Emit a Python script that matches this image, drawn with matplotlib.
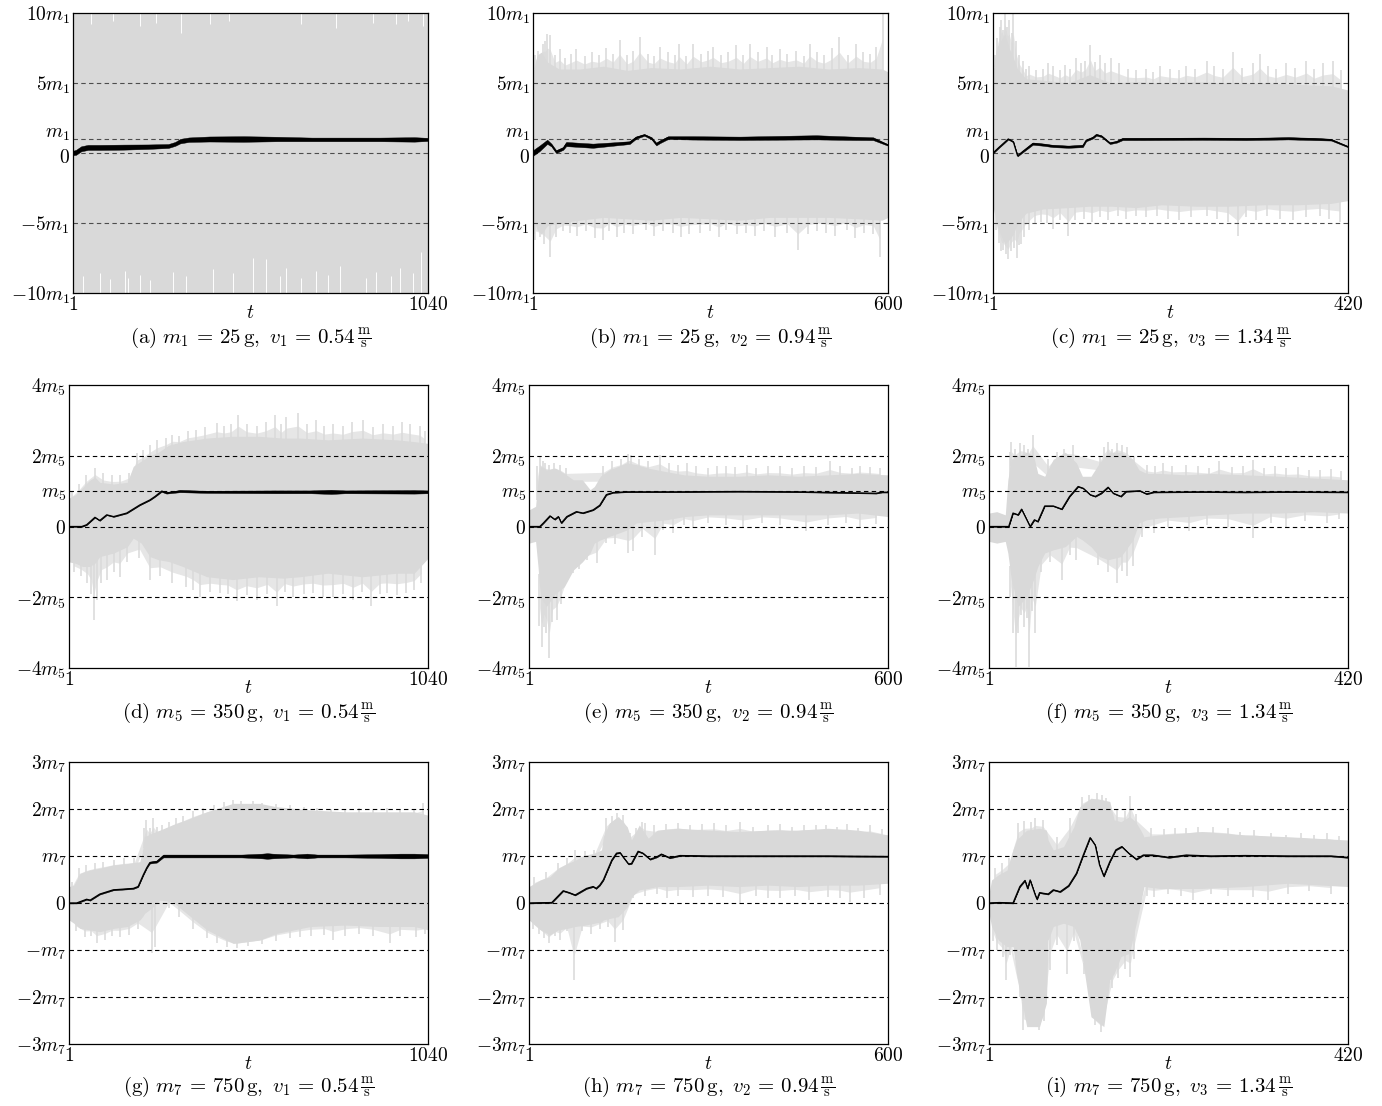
import numpy as np
import matplotlib
matplotlib.use("Agg")
import matplotlib.pyplot as plt

plt.rcParams['mathtext.fontset'] = 'cm'
plt.rcParams['font.family'] = 'serif'
plt.rcParams['font.serif'] = ['DejaVu Serif']

GRAY = '#d9d9d9'
FRINGE = '#e6e6e6'

# ---- panel (a): m1, v1, t = 1..1040 (gray covers the whole range) ----
A_T = [1, 1040]
A_HI = [11, 11]
A_LO = [-11, -11]
A_UP_T, A_UP_V, A_DN_T, A_DN_V = [], [], [], []
A_GAP_LO_T = [30, 79, 108, 152, 162, 196, 225, 294, 333, 411, 469, 528, 567, 606, 625, 669, 713, 747, 782, 860, 889, 933, 957, 996, 1020]
A_GAP_LO_V = [-8.8, -8.6, -9.0, -8.4, -8.9, -8.7, -9.1, -8.5, -8.8, -8.3, -8.6, -7.5, -7.6, -8.8, -8.2, -8.9, -8.4, -8.7, -8.1, -8.9, -8.5, -8.8, -8.2, -8.6, -7.1]
A_GAP_HI_T = [55, 118, 196, 245, 318, 401, 459, 669, 772, 879, 947, 982, 1025]
A_GAP_HI_V = [9.2, 9.4, 9.1, 9.3, 8.6, 9.2, 9.4, 9.2, 8.9, 9.3, 9.2, 9.4, 9.1]
A_EST_T = [1, 10, 25, 45, 80, 150, 220, 280, 300, 315, 340, 400, 500, 600, 700, 800, 900, 1000, 1040]
A_EST = [0.0, 0.05, 0.3, 0.4, 0.4, 0.42, 0.45, 0.5, 0.65, 0.85, 0.95, 1.0, 1.0, 1.0, 0.97, 0.97, 0.97, 0.97, 0.97]
A_JIT = [0.16, 0.18, 0.18, 0.18, 0.18, 0.18, 0.16, 0.14, 0.14, 0.16, 0.16, 0.18, 0.2, 0.16, 0.13, 0.13, 0.13, 0.16, 0.11]

# ---- panel (b): m1, v2, t = 1..600 ----
B_T = [1, 8, 15, 25, 45, 80, 120, 160, 200, 250, 300, 350, 400, 450, 500, 550, 590, 600]
B_HI = [5.8, 7.0, 7.2, 6.5, 6.0, 6.0, 6.2, 5.9, 6.1, 6.0, 6.2, 6.0, 6.1, 6.2, 6.0, 6.1, 6.0, 5.8]
B_LO = [-4.6, -5.5, -5.8, -5.2, -5.0, -4.8, -4.6, -4.7, -4.8, -4.6, -4.7, -4.8, -4.6, -4.6, -4.6, -4.7, -4.8, -4.6]
B_UP_T = [5, 10, 18, 22, 25, 30, 38, 46, 55, 65, 74, 88, 100, 112, 125, 136, 147, 160, 170, 181,
          195, 205, 215, 228, 240, 248, 260, 271, 285, 296, 305, 318, 330, 344, 356, 367, 380, 395, 405, 417,
          430, 445, 458, 468, 480, 492, 505, 518, 532, 546, 558, 570, 580, 591]
B_UP_V = [7.0, 7.3, 7.8, 8.0, 8.5, 8.4, 7.0, 7.4, 6.8, 7.1, 7.4, 6.9, 7.2, 7.0, 7.5, 7.1, 8.1, 7.0, 7.3, 8.3,
          7.1, 6.9, 7.6, 7.2, 7.0, 7.8, 6.9, 7.8, 7.1, 7.3, 7.6, 7.0, 7.2, 7.7, 7.0, 7.8, 7.2, 7.6, 7.0, 7.4,
          7.1, 7.3, 6.9, 7.8, 7.2, 7.0, 7.5, 8.3, 7.0, 7.8, 7.2, 7.1, 7.6, 10.0]
B_DN_T = [3, 5, 12, 20, 30, 40, 52, 63, 75, 90, 105, 119, 130, 142, 155, 170, 192, 205, 220, 237,
          250, 265, 282, 300, 315, 327, 345, 361, 375, 390, 410, 430, 448, 465, 480, 496, 510, 530, 545, 560, 575, 586]
B_DN_V = [-5.8, -6.2, -6.0, -6.5, -7.4, -6.0, -5.6, -5.7, -5.9, -5.6, -6.1, -6.2, -5.6, -6.0, -5.7, -5.8, -5.5, -5.9, -5.6, -5.7,
          -6.0, -5.8, -5.7, -5.6, -6.0, -5.5, -5.8, -5.7, -5.9, -5.6, -6.0, -5.7, -6.9, -5.8, -5.6, -5.7, -5.9, -5.5, -6.1, -5.7, -5.8, -7.4]
B_EST_T = [1, 12, 25, 32, 40, 52, 57, 102, 136, 164, 175, 189, 201, 209, 215, 229, 271, 350, 479, 540, 575, 600]
B_EST = [0.0, 0.33, 0.8, 0.57, 0.1, 0.33, 0.64, 0.52, 0.64, 0.74, 1.1, 1.29, 1.05, 0.64, 0.8, 1.1, 1.08, 1.05, 1.12, 1.05, 1.02, 0.57]
B_JIT = [0.2, 0.2, 0.15, 0.1, 0.1, 0.1, 0.15, 0.15, 0.12, 0.1, 0.08, 0.06, 0.08, 0.1, 0.1, 0.1, 0.12, 0.12, 0.15, 0.12, 0.1, 0.05]

# ---- panel (c): m1, v3, t = 1..420 ----
C_T = [1, 5, 10, 15, 20, 25, 30, 40, 60, 90, 115, 140, 170, 200, 240, 280, 320, 360, 400, 420]
C_HI = [5.8, 7.5, 8.0, 8.5, 7.5, 6.8, 6.0, 5.3, 5.2, 5.0, 5.6, 5.0, 5.1, 5.0, 5.1, 5.0, 5.0, 4.9, 4.8, 4.5]
C_LO = [-3.8, -5.0, -5.8, -6.5, -6.2, -5.8, -5.0, -4.3, -4.0, -3.9, -3.8, -3.8, -3.9, -3.7, -3.8, -3.8, -3.7, -3.7, -3.6, -3.4]
C_UP_T = [3, 6, 9, 11, 13, 15, 18, 20, 23, 25, 28, 32, 36, 40, 44, 52, 60, 66, 72, 80,
          86, 92, 99, 105, 110, 116, 121, 127, 133, 140, 150, 160, 170, 182, 190, 198, 210, 220, 229, 240,
          253, 262, 272, 284, 295, 308, 316, 325, 335, 347, 358, 371, 380, 390, 402, 412]
C_UP_V = [7.0, 8.2, 9.0, 9.5, 8.8, 10.0, 9.0, 9.5, 8.6, 10.0, 8.0, 7.0, 6.6, 6.0, 6.2, 5.9, 6.0, 6.4, 6.2, 5.9,
          6.3, 6.0, 6.8, 6.4, 6.6, 7.7, 6.5, 7.0, 6.4, 6.8, 6.4, 6.0, 5.9, 6.0, 5.8, 6.2, 6.0, 5.9, 6.2, 6.0,
          6.6, 6.2, 6.0, 7.2, 6.1, 6.4, 7.1, 6.2, 6.0, 6.4, 6.1, 6.6, 6.0, 6.4, 6.6, 5.9]
C_DN_T = [4, 8, 11, 13, 16, 19, 22, 26, 29, 32, 34, 38, 44, 50, 58, 65, 72, 80, 90, 98,
          108, 118, 127, 137, 148, 158, 170, 182, 195, 208, 221, 235, 253, 265, 278, 290, 300, 312, 324, 340,
          355, 370, 387, 398, 410]
C_DN_V = [-5.5, -6.4, -7.0, -6.9, -7.2, -7.6, -7.0, -6.8, -7.5, -6.6, -6.5, -6.0, -5.5, -5.0, -4.9, -5.0, -5.4, -4.8, -5.9, -4.8,
          -4.7, -4.9, -4.6, -4.8, -4.5, -4.7, -4.5, -4.6, -4.5, -4.7, -4.8, -4.6, -4.5, -4.7, -4.9, -5.9, -4.6, -4.8, -4.5, -4.7,
          -4.8, -4.6, -4.5, -4.7, -4.9]
C_EST_T = [1, 8, 19, 25, 30, 36, 48, 60, 72, 90, 107, 111, 119, 123, 129, 139, 147, 154, 180, 250, 300, 350, 380, 400, 420]
C_EST = [0.0, 0.4, 1.0, 0.8, -0.2, 0.1, 0.67, 0.6, 0.5, 0.45, 0.5, 0.9, 1.1, 1.3, 1.2, 0.7, 0.8, 1.0, 1.0, 1.02, 1.0, 1.05, 1.0, 0.95, 0.45]
C_JIT = [0.04, 0.04, 0.04, 0.04, 0.04, 0.06, 0.08, 0.08, 0.08, 0.08, 0.08, 0.06, 0.06, 0.06, 0.06, 0.06, 0.06, 0.08, 0.08, 0.08, 0.08, 0.08, 0.08, 0.06, 0.04]

# ---- panel (d): m5, v1, t = 1..1040 ----
D_T = [1, 20, 40, 60, 76, 90, 130, 170, 187, 210, 235, 260, 290, 330, 400, 475, 550, 620, 670, 750, 850, 950, 1000, 1040]
D_HI = [0.8, 0.9, 1.1, 1.3, 1.4, 1.25, 1.2, 1.25, 1.7, 1.85, 2.0, 2.1, 2.3, 2.4, 2.5, 2.55, 2.55, 2.5, 2.5, 2.45, 2.5, 2.45, 2.4, 2.35]
D_LO = [-1.0, -1.04, -1.13, -1.13, -1.04, -0.85, -0.75, -0.57, -0.33, -0.47, -0.85, -0.94, -0.99, -1.13, -1.42, -1.5, -1.42, -1.46, -1.42, -1.32, -1.42, -1.32, -1.32, -0.9]
D_UP_T = [10, 30, 50, 76, 100, 125, 150, 175, 197, 215, 235, 255, 283, 300, 320, 345, 370, 395, 428, 450,
          470, 491, 515, 544, 570, 597, 615, 630, 664, 690, 717, 740, 765, 794, 820, 852, 880, 910, 940, 965,
          987, 1016, 1030]
D_UP_V = [1.0, 1.2, 1.45, 1.65, 1.5, 1.45, 1.45, 1.5, 2.08, 2.15, 2.3, 2.45, 2.5, 2.6, 2.55, 2.7, 2.74, 2.8, 2.92, 2.85,
          2.9, 3.16, 2.9, 2.83, 2.95, 3.16, 2.9, 3.1, 3.2, 2.9, 3.0, 2.85, 2.9, 2.83, 2.95, 3.0, 2.8, 2.9, 2.85, 2.95,
          2.9, 2.85, 2.7]
D_DN_T = [15, 35, 54, 65, 73, 81, 95, 110, 130, 148, 170, 205, 235, 265, 300, 341, 360, 380, 410, 438,
          460, 486, 515, 544, 575, 602, 625, 650, 680, 708, 735, 765, 795, 823, 850, 876, 900, 920, 950, 977,
          1000, 1021]
D_DN_V = [-1.3, -1.4, -1.6, -1.9, -2.64, -2.07, -1.6, -1.51, -1.3, -1.42, -1.0, -0.9, -1.51, -1.4, -1.6, -1.7, -1.8, -1.98, -1.85, -1.89,
          -1.9, -2.12, -1.95, -2.07, -1.9, -2.26, -1.85, -1.98, -1.9, -1.89, -2.0, -1.98, -1.9, -2.07, -1.85, -2.26, -1.9, -1.89, -1.95, -1.89,
          -1.8, -1.6]
D_EST_T = [1, 38, 52, 76, 90, 110, 130, 168, 206, 235, 250, 269, 283, 322, 400, 600, 700, 760, 800, 1000, 1040]
D_EST = [0.0, 0.0, 0.05, 0.26, 0.17, 0.33, 0.28, 0.38, 0.61, 0.75, 0.85, 1.0, 0.95, 1.0, 0.98, 0.98, 0.98, 0.98, 0.98, 0.98, 0.98]
D_JIT = [0.01, 0.01, 0.01, 0.01, 0.01, 0.01, 0.01, 0.01, 0.01, 0.01, 0.01, 0.02, 0.02, 0.03, 0.03, 0.04, 0.04, 0.06, 0.04, 0.05, 0.04]

# ---- panel (e): m5, v2, t = 1..600 ----
E_T = [1, 12, 16, 20, 30, 45, 60, 75, 90, 103, 110, 120, 135, 150, 164, 180, 200, 230, 260, 300, 350, 400, 450, 500, 550, 600]
E_HI = [0.47, 0.57, 1.32, 1.7, 1.6, 1.65, 1.5, 1.32, 1.32, 1.04, 1.13, 1.42, 1.6, 1.7, 1.8, 1.75, 1.65, 1.55, 1.46, 1.42, 1.42, 1.46, 1.42, 1.46, 1.5, 1.46]
E_LO = [-0.47, -0.42, -1.13, -1.98, -2.26, -1.9, -1.7, -1.23, -1.0, -0.75, -0.47, -0.38, -0.28, -0.19, -0.1, 0.1, 0.14, 0.19, 0.28, 0.33, 0.33, 0.33, 0.33, 0.33, 0.38, 0.28]
E_UP_T = [14, 19, 24, 28, 35, 42, 53, 62, 125, 140, 155, 167, 172, 185, 200, 219, 235, 250, 264, 280,
          300, 314, 330, 345, 364, 380, 400, 419, 440, 460, 480, 503, 520, 540, 553, 570, 586]
E_UP_V = [1.7, 1.98, 1.85, 1.8, 1.75, 1.8, 1.75, 1.65, 1.7, 1.85, 1.9, 2.06, 2.03, 1.9, 1.85, 2.03, 1.8, 1.75, 1.8, 1.7,
          1.65, 1.7, 1.72, 1.68, 1.75, 1.65, 1.7, 1.7, 1.65, 1.72, 1.68, 1.84, 1.7, 1.65, 1.7, 1.68, 1.65]
E_DN_T = [18, 22, 26, 30, 35, 40, 47, 55, 64, 75, 85, 97, 114, 130, 145, 167, 175, 190, 211, 225,
          242, 260, 275, 300, 330, 358, 390, 420, 464, 500, 530, 553, 580]
E_DN_V = [-2.8, -3.4, -2.83, -3.0, -3.73, -2.7, -2.64, -2.2, -1.5, -1.32, -1.2, -0.94, -1.04, -0.47, -0.5, -0.75, -0.7, -0.3, -0.8, -0.1,
          -0.19, 0.05, -0.05, 0.1, 0.05, -0.05, 0.1, 0.05, -0.14, 0.05, 0.1, -0.05, 0.08]
E_EST_T = [1, 19, 25, 36, 44, 50, 55, 64, 80, 91, 108, 119, 130, 141, 164, 250, 350, 450, 580, 590, 600]
E_EST = [0.0, 0.0, 0.1, 0.3, 0.2, 0.28, 0.1, 0.28, 0.42, 0.38, 0.47, 0.6, 0.9, 0.96, 0.98, 0.98, 0.99, 0.98, 0.94, 0.97, 0.97]
E_JIT = [0.01] * 21

# ---- panel (f): m5, v3, t = 1..420 ----
F_T = [1, 10, 20, 23, 27, 35, 45, 53, 58, 66, 76, 90, 103, 110, 120, 130, 140, 155, 169, 176, 185, 200, 230, 260, 300, 340, 380, 420]
F_HI = [0.38, 0.42, 0.33, 1.32, 1.9, 2.0, 2.1, 2.0, 1.5, 1.42, 1.9, 2.1, 1.8, 1.42, 1.42, 1.8, 2.1, 2.1, 1.9, 1.6, 1.5, 1.5, 1.46, 1.5, 1.46, 1.42, 1.37, 1.32]
F_LO = [-0.42, -0.47, -0.42, -0.75, -1.5, -2.26, -1.98, -1.5, -1.13, -0.75, -0.66, -0.57, -0.28, -0.38, -0.57, -0.85, -0.94, -0.85, -0.38, 0.1, 0.19, 0.24, 0.28, 0.33, 0.38, 0.38, 0.42, 0.38]
F_UP_T = [25, 27, 31, 37, 42, 47, 52, 70, 80, 88, 99, 130, 135, 140, 145, 150, 156, 162, 170, 185,
          195, 204, 215, 231, 245, 258, 270, 285, 298, 309, 322, 335, 348, 362, 375, 387, 400, 412]
F_UP_V = [2.1, 2.4, 2.2, 2.36, 2.3, 2.2, 2.6, 1.9, 2.1, 2.2, 2.3, 2.0, 2.25, 2.4, 2.2, 2.36, 2.3, 2.26, 2.0, 1.75,
          1.7, 1.8, 1.72, 1.75, 1.7, 1.65, 1.84, 1.68, 1.7, 1.89, 1.65, 1.7, 1.65, 1.68, 1.6, 1.6, 1.62, 1.58]
F_DN_T = [26, 29, 32, 35, 38, 42, 45, 48, 51, 55, 62, 72, 86, 95, 103, 128, 140, 150, 156, 162,
          169, 180, 193, 210, 235, 255, 280, 309, 330, 348, 370, 395, 410]
F_DN_V = [-2.0, -3.0, -3.96, -3.0, -2.5, -2.83, -2.6, -3.96, -2.4, -3.0, -1.3, -1.0, -1.5, -0.8, -0.94, -1.1, -1.3, -1.6, -1.27, -1.4,
          -1.13, -0.3, -0.19, 0.0, -0.14, 0.05, 0.0, -0.33, 0.1, 0.0, 0.15, 0.1, 0.2]
F_EST_T = [1, 24, 29, 35, 39, 49, 54, 58, 66, 76, 86, 95, 105, 111, 119, 125, 132, 140, 146, 155, 161, 177, 185, 193, 250, 300, 350, 420]
F_EST = [0.0, 0.0, 0.38, 0.33, 0.49, 0.0, 0.19, 0.14, 0.58, 0.58, 0.49, 0.85, 1.13, 1.08, 0.9, 0.85, 0.94, 1.11, 0.94, 0.85, 0.99, 1.01, 0.92, 0.97, 0.98, 0.97, 0.98, 0.97]
F_JIT = [0.01] * 28

# ---- panel (g): m7, v1, t = 1..1040 ----
G_T = [1, 15, 33, 60, 90, 130, 170, 206, 214, 220, 240, 264, 300, 341, 400, 476, 553, 600, 700, 800, 900, 1000, 1040]
G_HI = [0.35, 0.38, 0.63, 0.7, 0.74, 0.81, 0.84, 0.88, 1.13, 1.41, 1.48, 1.55, 1.66, 1.77, 1.94, 2.12, 2.12, 2.05, 1.98, 1.94, 1.94, 1.94, 1.87]
G_LO = [-0.36, -0.43, -0.54, -0.57, -0.61, -0.54, -0.5, -0.36, -0.29, -0.22, -0.11, 0.06, 0.03, -0.22, -0.57, -0.86, -0.79, -0.65, -0.5, -0.47, -0.5, -0.5, -0.57]
G_UP_T = [10, 30, 50, 75, 100, 130, 160, 190, 218, 225, 235, 245, 255, 270, 290, 310, 330, 360, 390, 420,
          450, 476, 500, 534, 560, 600, 640, 680, 720, 760, 800, 840, 880, 920, 960, 1000, 1026]
G_UP_V = [0.45, 0.75, 0.8, 0.85, 0.88, 0.92, 0.95, 0.96, 1.6, 1.77, 1.6, 1.8, 1.62, 1.65, 1.72, 1.8, 1.85, 1.95, 2.02, 2.08,
          2.15, 2.19, 2.18, 2.16, 2.12, 2.1, 2.08, 2.05, 2.02, 2.0, 2.0, 2.02, 1.98, 2.02, 2.0, 2.0, 2.12]
G_DN_T = [20, 47, 65, 81, 105, 125, 148, 175, 200, 240, 250, 290, 320, 360, 400, 430, 457, 486, 520, 560,
          600, 640, 669, 700, 740, 766, 800, 840, 880, 929, 960, 1006, 1030]
G_DN_V = [-0.6, -0.72, -0.7, -0.86, -0.79, -0.7, -0.72, -0.68, -0.55, -1.07, -0.93, -0.1, -0.3, -0.55, -0.75, -0.85, -0.93, -0.96, -0.92, -0.88,
          -0.8, -0.75, -0.72, -0.7, -0.68, -0.79, -0.7, -0.65, -0.7, -0.86, -0.7, -0.72, -0.65]
G_EST_T = [1, 23, 52, 62, 90, 129, 187, 201, 216, 226, 235, 255, 274, 300, 400, 500, 560, 575, 590, 650, 690, 720, 800, 900, 960, 1000, 1040]
G_EST = [0.0, 0.0, 0.08, 0.06, 0.19, 0.28, 0.31, 0.35, 0.6, 0.75, 0.86, 0.88, 1.0, 1.0, 1.0, 1.0, 1.0, 1.0, 1.0, 1.0, 1.0, 1.0, 1.0, 1.0, 1.0, 1.0, 1.0]
G_JIT = [0.01, 0.01, 0.01, 0.01, 0.01, 0.01, 0.01, 0.01, 0.01, 0.01, 0.02, 0.02, 0.03, 0.03, 0.03, 0.03, 0.05, 0.06, 0.05, 0.03, 0.05, 0.03, 0.03, 0.04, 0.05, 0.05, 0.04]

# ---- panel (h): m7, v2, t = 1..600 ----
H_T = [1, 20, 36, 50, 65, 78, 95, 110, 122, 125, 135, 150, 165, 172, 185, 200, 215, 250, 300, 350, 400, 450, 500, 550, 600]
H_HI = [0.35, 0.49, 0.56, 0.74, 0.84, 0.91, 1.02, 1.06, 1.13, 1.41, 1.7, 1.84, 1.62, 1.34, 1.66, 1.38, 1.55, 1.59, 1.55, 1.52, 1.55, 1.55, 1.59, 1.55, 1.45]
H_LO = [-0.36, -0.57, -0.68, -0.57, -0.54, -0.5, -0.47, -0.43, -0.4, -0.36, -0.33, -0.29, -0.08, 0.13, 0.28, 0.31, 0.35, 0.35, 0.38, 0.35, 0.38, 0.35, 0.38, 0.38, 0.42]
H_UP_T = [10, 30, 50, 65, 78, 95, 110, 130, 140, 147, 158, 170, 180, 189, 194, 210, 230, 250, 270, 290,
          310, 330, 353, 375, 400, 420, 440, 460, 480, 497, 515, 531, 550, 570, 590]
H_UP_V = [0.55, 0.65, 0.85, 0.95, 1.13, 1.1, 1.12, 1.8, 1.85, 1.92, 1.87, 1.5, 1.6, 1.73, 1.7, 1.65, 1.68, 1.7, 1.65, 1.68,
          1.7, 1.65, 1.73, 1.62, 1.65, 1.68, 1.62, 1.66, 1.65, 1.66, 1.62, 1.68, 1.6, 1.65, 1.58]
H_DN_T = [8, 18, 26, 34, 44, 53, 64, 76, 90, 105, 120, 132, 144, 158, 175, 195, 215, 231, 250, 275,
          300, 325, 353, 380, 400, 420, 445, 469, 500, 520, 536, 560, 586]
H_DN_V = [-0.55, -0.65, -0.75, -0.86, -0.7, -0.79, -0.6, -1.64, -0.6, -0.65, -0.55, -0.5, -0.82, -0.57, 0.1, 0.15, 0.2, 0.1, 0.15, 0.13,
          0.15, 0.12, 0.0, 0.15, 0.1, 0.1, 0.15, 0.06, 0.12, 0.1, 0.03, 0.1, 0.17]
H_EST_T = [1, 39, 58, 68, 78, 97, 108, 113, 119, 125, 139, 147, 153, 158, 167, 172, 183, 191, 203, 214, 222, 236, 253, 300, 400, 500, 600]
H_EST = [0.0, 0.01, 0.26, 0.22, 0.17, 0.31, 0.35, 0.31, 0.38, 0.49, 0.91, 1.06, 1.07, 0.98, 0.83, 0.84, 1.1, 1.06, 0.93, 0.98, 1.04, 0.96, 1.01, 1.0, 1.0, 1.0, 0.99]
H_JIT = [0.01] * 27

# ---- panel (i): m7, v3, t = 1..420 ----
I_T = [1, 4, 12, 22, 29, 33, 45, 60, 68, 70, 76, 88, 100, 107, 120, 135, 142, 147, 155, 165, 172, 178, 182, 200, 250, 300, 350, 420]
I_HI = [0.2, 0.49, 0.6, 0.7, 1.13, 1.34, 1.55, 1.59, 1.55, 1.34, 1.13, 1.2, 1.62, 2.05, 2.23, 2.19, 2.16, 1.77, 1.73, 1.84, 1.73, 1.55, 1.41, 1.45, 1.52, 1.45, 1.41, 1.34]
I_LO = [-0.22, -0.5, -0.79, -0.93, -0.93, -1.5, -2.63, -2.63, -2.13, -0.79, -0.5, -0.43, -0.5, -0.79, -2.42, -2.63, -1.64, -1.5, -1.14, -1.07, -0.5, 0.0, 0.35, 0.31, 0.31, 0.35, 0.42, 0.35]
I_UP_T = [8, 16, 24, 35, 42, 50, 55, 64, 80, 95, 110, 118, 127, 133, 138, 150, 160, 166, 172, 190,
          205, 218, 231, 245, 263, 280, 294, 310, 330, 348, 365, 380, 395, 410]
I_UP_V = [0.75, 0.85, 0.95, 1.7, 1.75, 1.72, 1.8, 1.77, 1.4, 1.8, 2.25, 2.3, 2.33, 2.3, 2.23, 2.0, 1.95, 2.28, 1.9, 1.6,
          1.58, 1.6, 1.59, 1.62, 1.62, 1.6, 1.52, 1.55, 1.5, 1.45, 1.5, 1.45, 1.48, 1.42]
I_DN_T = [6, 10, 17, 21, 26, 37, 41, 50, 59, 65, 72, 80, 92, 100, 112, 125, 132, 145, 152, 160,
          166, 170, 185, 193, 210, 225, 239, 260, 280, 309, 327, 350, 375, 400]
I_DN_V = [-0.8, -1.0, -1.14, -1.64, -1.1, -2.0, -2.7, -2.6, -2.7, -2.5, -1.43, -0.9, -1.5, -0.8, -1.5, -2.6, -2.74, -1.8, -1.6, -1.4,
          -1.57, -1.2, 0.15, 0.13, 0.2, 0.15, 0.06, 0.2, 0.15, 0.13, 0.06, 0.2, 0.25, 0.2]
I_EST_T = [1, 13, 29, 37, 43, 46, 49, 55, 57, 60, 70, 76, 84, 94, 103, 111, 119, 125, 130, 135, 142, 149, 156, 164, 173, 181, 192, 211, 231, 260, 300, 350, 400, 420]
I_EST = [0.0, 0.01, 0.0, 0.35, 0.48, 0.31, 0.49, 0.17, 0.08, 0.22, 0.19, 0.28, 0.24, 0.37, 0.63, 1.02, 1.39, 1.23, 0.81, 0.57, 0.88, 1.13, 1.2, 1.06, 0.93, 1.02, 1.02, 0.97, 1.02, 1.0, 1.01, 1.0, 1.0, 0.97]
I_JIT = [0.01] * 34

T_MAX = [1040, 600, 420]
ROW_YLIM = [10, 4, 3]
ROW_YTICKS = [[-10, -5, 0, 1, 5, 10], [-4, -2, 0, 1, 2, 4], [-3, -2, -1, 0, 1, 2, 3]]
ROW_YLABELS = [
    [r'$-10m_1$', r'$-5m_1$', r'$0$', r'$m_1$', r'$5m_1$', r'$10m_1$'],
    [r'$-4m_5$', r'$-2m_5$', r'$0$', r'$m_5$', r'$2m_5$', r'$4m_5$'],
    [r'$-3m_7$', r'$-2m_7$', r'$-m_7$', r'$0$', r'$m_7$', r'$2m_7$', r'$3m_7$'],
]
ROW_DASHES = [[-5, 0, 1, 5], [-2, 0, 1, 2], [-2, -1, 0, 1, 2]]
CAPTIONS = [
    r'$\mathrm{(a)}\ m_1\,=\,25\,\mathrm{g},\ v_1\,=\,0.54\,\frac{\mathrm{m}}{\mathrm{s}}$',
    r'$\mathrm{(b)}\ m_1\,=\,25\,\mathrm{g},\ v_2\,=\,0.94\,\frac{\mathrm{m}}{\mathrm{s}}$',
    r'$\mathrm{(c)}\ m_1\,=\,25\,\mathrm{g},\ v_3\,=\,1.34\,\frac{\mathrm{m}}{\mathrm{s}}$',
    r'$\mathrm{(d)}\ m_5\,=\,350\,\mathrm{g},\ v_1\,=\,0.54\,\frac{\mathrm{m}}{\mathrm{s}}$',
    r'$\mathrm{(e)}\ m_5\,=\,350\,\mathrm{g},\ v_2\,=\,0.94\,\frac{\mathrm{m}}{\mathrm{s}}$',
    r'$\mathrm{(f)}\ m_5\,=\,350\,\mathrm{g},\ v_3\,=\,1.34\,\frac{\mathrm{m}}{\mathrm{s}}$',
    r'$\mathrm{(g)}\ m_7\,=\,750\,\mathrm{g},\ v_1\,=\,0.54\,\frac{\mathrm{m}}{\mathrm{s}}$',
    r'$\mathrm{(h)}\ m_7\,=\,750\,\mathrm{g},\ v_2\,=\,0.94\,\frac{\mathrm{m}}{\mathrm{s}}$',
    r'$\mathrm{(i)}\ m_7\,=\,750\,\mathrm{g},\ v_3\,=\,1.34\,\frac{\mathrm{m}}{\mathrm{s}}$',
]

PANELS = [
    (A_T, A_HI, A_LO, A_UP_T, A_UP_V, A_DN_T, A_DN_V, A_EST_T, A_EST, A_JIT),
    (B_T, B_HI, B_LO, B_UP_T, B_UP_V, B_DN_T, B_DN_V, B_EST_T, B_EST, B_JIT),
    (C_T, C_HI, C_LO, C_UP_T, C_UP_V, C_DN_T, C_DN_V, C_EST_T, C_EST, C_JIT),
    (D_T, D_HI, D_LO, D_UP_T, D_UP_V, D_DN_T, D_DN_V, D_EST_T, D_EST, D_JIT),
    (E_T, E_HI, E_LO, E_UP_T, E_UP_V, E_DN_T, E_DN_V, E_EST_T, E_EST, E_JIT),
    (F_T, F_HI, F_LO, F_UP_T, F_UP_V, F_DN_T, F_DN_V, F_EST_T, F_EST, F_JIT),
    (G_T, G_HI, G_LO, G_UP_T, G_UP_V, G_DN_T, G_DN_V, G_EST_T, G_EST, G_JIT),
    (H_T, H_HI, H_LO, H_UP_T, H_UP_V, H_DN_T, H_DN_V, H_EST_T, H_EST, H_JIT),
    (I_T, I_HI, I_LO, I_UP_T, I_UP_V, I_DN_T, I_DN_V, I_EST_T, I_EST, I_JIT),
]

# axes boxes in pixels
W, H = 1382, 1106
ROW_LEFT = [[73, 533, 993], [69, 529, 989], [69, 529, 989]]
COL_RIGHT = [428, 888, 1348]
ROW_TOP = [13, 385, 762]
ROW_BOTTOM = [293, 668, 1044]
CAPTION_OFF = [-45, -45, -43]
# in the first row the "0" and "m1" labels sit close together, nudge them apart (pixels)
ROW1_NUDGE = {2: -5, 3: 5}

fig = plt.figure(figsize=(W / 100, H / 100), dpi=100)

for k, (t, hi, lo, up_t, up_v, dn_t, dn_v, est_t, est, jit) in enumerate(PANELS):
    row, col = divmod(k, 3)
    left = ROW_LEFT[row][col]
    right = COL_RIGHT[col]
    top, bottom = ROW_TOP[row], ROW_BOTTOM[row]
    ax = fig.add_axes([left / W, 1 - bottom / H, (right - left) / W, (bottom - top) / H])
    pad = 0.05 * ROW_YLIM[row]

    # raw estimates: gray band, a lighter fringe through the spike tips, and the spikes
    ax.fill_between(t, lo, hi, color=GRAY, lw=0, zorder=1)
    if up_t:
        base = np.interp(up_t, t, hi) - pad
        ax.fill_between(up_t, base, base + 0.6 * (np.array(up_v) - base), color=FRINGE, lw=0, zorder=0.9)
        ax.vlines(up_t, base, up_v, color=GRAY, lw=1.1, zorder=1)
    if dn_t:
        base = np.interp(dn_t, t, lo) + pad
        ax.fill_between(dn_t, base - 0.6 * (base - np.array(dn_v)), base, color=FRINGE, lw=0, zorder=0.9)
        ax.vlines(dn_t, dn_v, base, color=GRAY, lw=1.1, zorder=1)
    if k == 0:
        ax.vlines(A_GAP_LO_T, -10.5, A_GAP_LO_V, color='white', lw=0.7, zorder=1)
        ax.vlines(A_GAP_HI_T, A_GAP_HI_V, 10.5, color='white', lw=0.7, zorder=1)

    dash_col = '0.3' if row == 0 else 'black'
    for yv in ROW_DASHES[row]:
        ax.axhline(yv, color=dash_col, lw=0.8, dashes=(4, 3), zorder=2)

    # filtered estimate
    est_a = np.array(est)
    jit_a = np.array(jit)
    ax.fill_between(est_t, est_a - jit_a, est_a + jit_a, color='black', lw=0.3, zorder=3)
    ax.plot(est_t, est, color='black', lw=0.9, zorder=3)

    ax.set_xlim(1, T_MAX[col])
    ax.set_ylim(-ROW_YLIM[row], ROW_YLIM[row])
    ax.set_xticks([1, T_MAX[col]])
    ax.set_xticklabels([r'$1$', r'$%d$' % T_MAX[col]])
    ax.set_yticks(ROW_YTICKS[row])
    labels = list(ROW_YLABELS[row])
    if row == 0:
        for i, dy in ROW1_NUDGE.items():
            ax.annotate(labels[i], xy=(0, ROW_YTICKS[row][i]), xycoords=('axes fraction', 'data'),
                        xytext=(-3, dy), textcoords='offset pixels', ha='right', va='center', fontsize=14)
            labels[i] = ''
    ax.set_yticklabels(labels)
    ax.tick_params(length=0, labelsize=14)
    ax.tick_params(axis='x', pad=2)
    ax.tick_params(axis='y', pad=2)
    for sp in ax.spines.values():
        sp.set_linewidth(0.9)
        sp.set_zorder(4)

    ax.annotate(r'$t$', xy=(0.5, 0), xycoords='axes fraction', xytext=(0, -20),
                textcoords='offset pixels', ha='center', va='center', fontsize=14)
    ax.annotate(CAPTIONS[k], xy=(0.5, 0), xycoords='axes fraction', xytext=(0, CAPTION_OFF[row]),
                textcoords='offset pixels', ha='center', va='center', fontsize=15)

fig.savefig('out.png', dpi=100)
